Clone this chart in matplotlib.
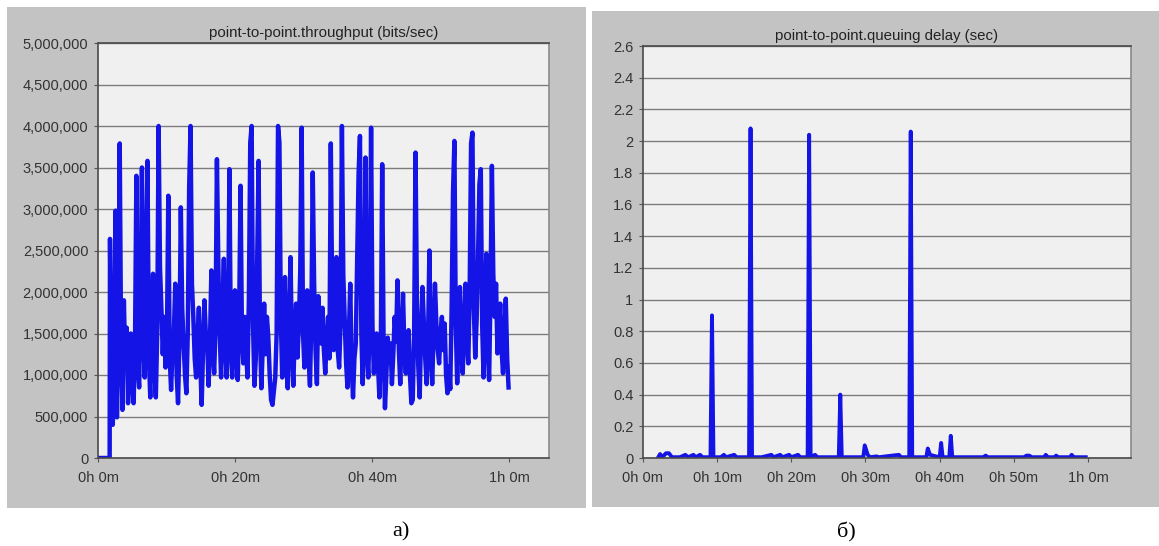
import numpy as np
import matplotlib.pyplot as plt
from matplotlib.patches import Rectangle
from matplotlib.ticker import FuncFormatter

plt.rcParams['font.family'] = ['Liberation Sans', 'DejaVu Sans']

# --- a) throughput, kbit/s, evenly sampled from 1.75 to 59.9 min (line is 0 before)
thr_first, thr_last = 1.75, 59.9
thr_kbps = [
    # 1.75 .. ~16 min
    2640, 820, 400, 1200, 2980, 490, 1500, 3790, 1300, 580, 1900, 1100, 1570, 660,
    1200, 1500, 880, 660, 1350, 3400, 1100, 850, 1900, 3500, 1400, 970, 2400, 3580,
    1200, 730, 1600, 2220, 1050, 730, 1500, 4000, 2300, 1810, 1250, 1700, 1090, 1450,
    3160, 1200, 820, 1300, 1520, 2100, 1000, 660, 1400, 3020, 1800, 1380, 1000, 780,
    1500, 3250, 4000, 2100, 1700, 1200, 970, 1450, 1810, 1150, 640, 1300, 1900, 1500,
    1380,
    # ~16 .. ~33 min
    870, 1400, 2260, 1300, 1020, 1600, 3600, 2340, 1500, 970, 1800, 2400, 1300, 970,
    1500, 3480, 1400, 970, 1600, 2020, 1200, 940, 1700, 3280, 1500, 1140, 1700, 1300,
    970, 1900, 3800, 4000, 1600, 870, 1200, 2400, 3580, 1500, 840, 1350, 1860, 1250,
    1700, 1450, 1000, 700, 640, 800, 970, 1500, 4000, 3800, 1700, 970, 1400, 2180,
    1100, 840, 1600, 2420, 1300, 870, 1500, 1860, 1210, 1600, 2260, 3980, 1500, 1090,
    1500, 2020, 1200, 870, 1700, 3440, 2100, 1300, 890,
    # ~33 .. ~49 min
    1950, 1500, 1380, 1810, 1300, 1020, 1400, 1700, 1200, 3790, 1900, 1300, 1700, 2420,
    1300, 1090, 1600, 4000, 2200, 1660, 1150, 850, 1500, 2100, 1100, 730, 1200, 1380,
    2400, 3420, 3880, 1500, 890, 1600, 3620, 1300, 970, 1700, 3980, 1600, 1020, 1400,
    1500, 1100, 730, 1300, 3540, 1400, 600, 1000, 1450, 1150, 1380, 890, 1250, 1700,
    1400, 2140, 1300, 890, 1500, 1980, 1300, 1020, 1400, 1540, 1000, 660, 700, 1500,
    3680, 1900, 1100, 730, 1500, 2060, 1620, 1200, 890, 1400, 2500, 1300, 890,
    # ~49 .. 60 min
    1500, 2100, 1620, 1300, 1140, 1500, 1700, 1300, 1620, 1000, 780, 1100, 830, 1800,
    3200, 3820, 1600, 900, 1500, 2060, 1300, 1020, 1600, 2100, 1400, 1140, 2000, 3790,
    3920, 1800, 1210, 1660, 2400, 3300, 3480, 1600, 970, 1800, 2460, 1300, 940, 2000,
    3520, 2220, 1700, 2100, 1260, 1500, 1860, 1300, 1020, 1500, 1920, 1200, 850,
]

# --- б) queuing delay, sec
delay_min = [
    2.0, 2.3, 2.6, 3.1, 3.5, 3.9, 5.0, 5.7, 6.1, 6.8, 7.1, 7.7, 8.0, 9.1, 9.3, 9.5,
    10.5, 10.9, 11.2, 12.3, 12.6, 14.3, 14.5, 14.7, 16.0, 17.3, 17.6, 18.5, 18.8,
    19.7, 20.0, 20.9, 21.2, 22.2, 22.4, 22.6, 23.2, 23.5, 26.4, 26.6, 26.8, 29.7,
    29.9, 30.3, 30.6, 31.5, 31.8, 34.5, 34.8, 35.9, 36.1, 36.3, 38.2, 38.4, 38.7,
    39.5, 40.0, 40.2, 40.4, 41.3, 41.5, 41.7, 45.9, 46.2, 46.5, 51.4, 51.7, 52.1,
    52.4, 54.1, 54.3, 54.6, 55.5, 55.7, 56.0, 57.6, 57.8, 58.1, 59.7,
]
delay_sec = [
    0.0, 0.025, 0.005, 0.03, 0.03, 0.005, 0.005, 0.02, 0.005, 0.02, 0.005, 0.02, 0.005,
    0.005, 0.9, 0.005, 0.005, 0.02, 0.005, 0.02, 0.005, 0.005, 2.08, 0.005, 0.005,
    0.02, 0.005, 0.02, 0.005, 0.02, 0.005, 0.02, 0.005, 0.005, 2.04, 0.005, 0.02,
    0.005, 0.005, 0.4, 0.005, 0.005, 0.08, 0.02, 0.005, 0.01, 0.005, 0.02, 0.005,
    0.005, 2.06, 0.005, 0.005, 0.06, 0.02, 0.01, 0.005, 0.095, 0.005, 0.005, 0.14,
    0.005, 0.005, 0.015, 0.005, 0.005, 0.015, 0.015, 0.005, 0.005, 0.02, 0.005,
    0.005, 0.015, 0.005, 0.005, 0.02, 0.005, 0.005,
]

W, H = 1159, 546
fig = plt.figure(figsize=(W / 100, H / 100), dpi=100)
fig.patch.set_facecolor('white')

# gray panel backgrounds (pixel boxes)
for x0, y0, x1, y1 in [(7, 7, 586, 508), (592, 11, 1159, 507)]:
    fig.patches.append(Rectangle((x0 / W, 1 - y1 / H), (x1 - x0) / W, (y1 - y0) / H,
                                 transform=fig.transFigure, facecolor='#c3c3c3',
                                 edgecolor='none', zorder=-10))


def make_axes(box):
    x0, y0, x1, y1 = box
    ax = fig.add_axes([x0 / W, 1 - y1 / H, (x1 - x0) / W, (y1 - y0) / H], zorder=2)
    ax.set_facecolor('#f0f0f0')
    for s in ax.spines.values():
        s.set_color('#4a4a4a')
        s.set_linewidth(1.2)
    ax.spines['right'].set_color('#8a8a8a')
    ax.yaxis.grid(True, color='#7c7c7c', lw=1.0)
    ax.set_axisbelow(True)
    ax.tick_params(axis='both', direction='out', length=3, width=0.8,
                   colors='#555555', labelcolor='#333333', labelsize=10.5)
    ax.tick_params(axis='x', pad=6)
    ax.tick_params(axis='y', pad=4)
    ax.set_xlim(0, 65.8)
    return ax


# a) throughput
ax1 = make_axes((98, 43, 549, 458))
t_thr = np.concatenate([[0, 1.7], np.linspace(thr_first, thr_last, len(thr_kbps))])
v_thr = np.concatenate([[0, 0], np.array(thr_kbps) * 1000])
ax1.plot(t_thr, v_thr, color='#1414e6', lw=3.2, solid_joinstyle='round')
ax1.set_ylim(0, 5000000)
ax1.set_yticks(np.arange(0, 5000001, 500000))
ax1.yaxis.set_major_formatter(FuncFormatter(lambda v, p: f'{v:,.0f}'))
ax1.set_xticks([0, 20, 40, 60])
ax1.set_xticklabels(['0h 0m', '0h 20m', '0h 40m', '1h 0m'])
ax1.set_title('point-to-point.throughput (bits/sec)', fontsize=10.8, color='#222222', pad=4)

# б) queuing delay
ax2 = make_axes((643, 46, 1131, 458))
ax2.plot(delay_min, delay_sec, color='#1414e6', lw=2.8, solid_joinstyle='round')
ax2.set_ylim(0, 2.6)
ax2.set_yticks(np.round(np.arange(0, 2.61, 0.2), 1))
ax2.yaxis.set_major_formatter(FuncFormatter(lambda v, p: f'{round(v, 1):g}'))
ax2.set_xticks([0, 10, 20, 30, 40, 50, 60])
ax2.set_xticklabels(['0h 0m', '0h 10m', '0h 20m', '0h 30m', '0h 40m', '0h 50m', '1h 0m'])
ax2.set_title('point-to-point.queuing delay (sec)', fontsize=10.8, color='#222222', pad=4)

# panel captions
fig.text(401 / W, 1 - 532 / H, 'а)', family='Liberation Serif', fontsize=16,
         ha='center', va='center')
fig.text(846 / W, 1 - 532 / H, 'б)', family='Liberation Serif', fontsize=16,
         ha='center', va='center')

fig.savefig('out.png', dpi=100)
